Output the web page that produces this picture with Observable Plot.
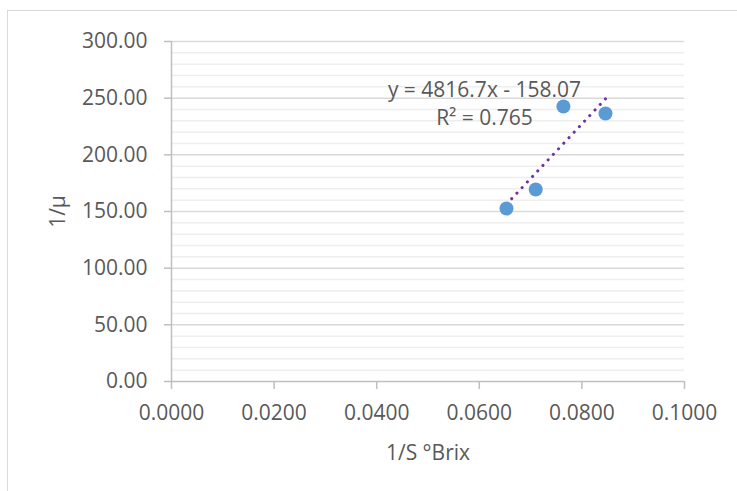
<!DOCTYPE html>
<html><head><meta charset="utf-8">
<script src="https://cdn.jsdelivr.net/npm/d3@7"></script>
<script src="https://cdn.jsdelivr.net/npm/@observablehq/plot@0.6"></script>
<style>
html,body{margin:0;padding:0;background:#fff;overflow:hidden;width:737px;height:491px}
#chart{position:relative;width:737px;height:491px;overflow:hidden}
#frame{position:absolute;left:7px;top:10px;width:760px;height:520px;border-left:1.5px solid #d9d9d9;border-top:1.5px solid #d9d9d9;pointer-events:none}
#chart svg{position:absolute;left:0;top:0}
</style></head><body><div id="chart"><div id="frame"></div></div>
<script>
const invBrix = [0.0653, 0.0710, 0.0764, 0.0846];
const invMu = [152.6, 169.4, 242.6, 236.5];
const slope = 4816.7;
const intercept = -158.07;
const r2 = 0.765;
const xTicks = [0, 0.02, 0.04, 0.06, 0.08, 0.1];
const yTicks = [0, 50, 100, 150, 200, 250, 300];
const yMinorStep = 10;
const xLabel = "1/S °Brix";
const yLabel = "1/μ";

const yMinor = d3.range(0, 301, yMinorStep).filter(v => !yTicks.includes(v));
const points = invBrix.map((x, i) => ({x, y: invMu[i]}));
const trend = d3.extent(invBrix).map(x => ({x, y: slope * x + intercept}));
const eq = `y = ${slope}x - ${(-intercept).toFixed(2)}\nR² = ${r2}`;

const plot = Plot.plot({
  width: 737, height: 491,
  marginLeft: 171, marginRight: 53, marginTop: 41, marginBottom: 110,
  style: {fontFamily: "'Open Sans', sans-serif", fontSize: "21px", color: "#595959", background: "transparent", overflow: "visible"},
  x: {domain: [0, 0.1]},
  y: {domain: [0, 300]},
  marks: [
    Plot.ruleY(yMinor, {stroke: "#eeeeee", strokeWidth: 1.5}),
    Plot.ruleY(yTicks.slice(1), {stroke: "#d9d9d9", strokeWidth: 1.5}),
    Plot.axisY({ticks: yTicks, tickFormat: d => d.toFixed(2), tickSize: 7, tickPadding: 17, stroke: "#bfbfbf", fill: "#595959", strokeWidth: 1.5, label: null}),
    Plot.axisX({ticks: xTicks, tickFormat: d => d.toFixed(4), tickSize: 8, tickPadding: 16, stroke: "#bfbfbf", fill: "#595959", strokeWidth: 1.5, label: null}),
    Plot.ruleX([0], {stroke: "#bfbfbf", strokeWidth: 1.5}),
    Plot.ruleY([0], {stroke: "#bfbfbf", strokeWidth: 1.5}),
    Plot.line(trend, {x: "x", y: "y", stroke: "#7030a0", strokeWidth: 3, strokeDasharray: "0.1 7.5", strokeLinecap: "round"}),
    Plot.dot(points, {x: "x", y: "y", r: 7, fill: "#5b9bd5"}),
    Plot.text([eq], {frameAnchor: "top-left", dx: 313, dy: 35, textAnchor: "middle", lineAnchor: "top", lineHeight: 1.35, fill: "#595959"}),
    Plot.text([xLabel], {frameAnchor: "bottom", dy: 64, textAnchor: "middle", lineAnchor: "top", fill: "#595959"}),
    Plot.text([yLabel], {frameAnchor: "left", dx: -113, rotate: -90, textAnchor: "middle", fill: "#595959"})
  ]
});
document.getElementById("chart").appendChild(plot);
</script>
</body></html>
